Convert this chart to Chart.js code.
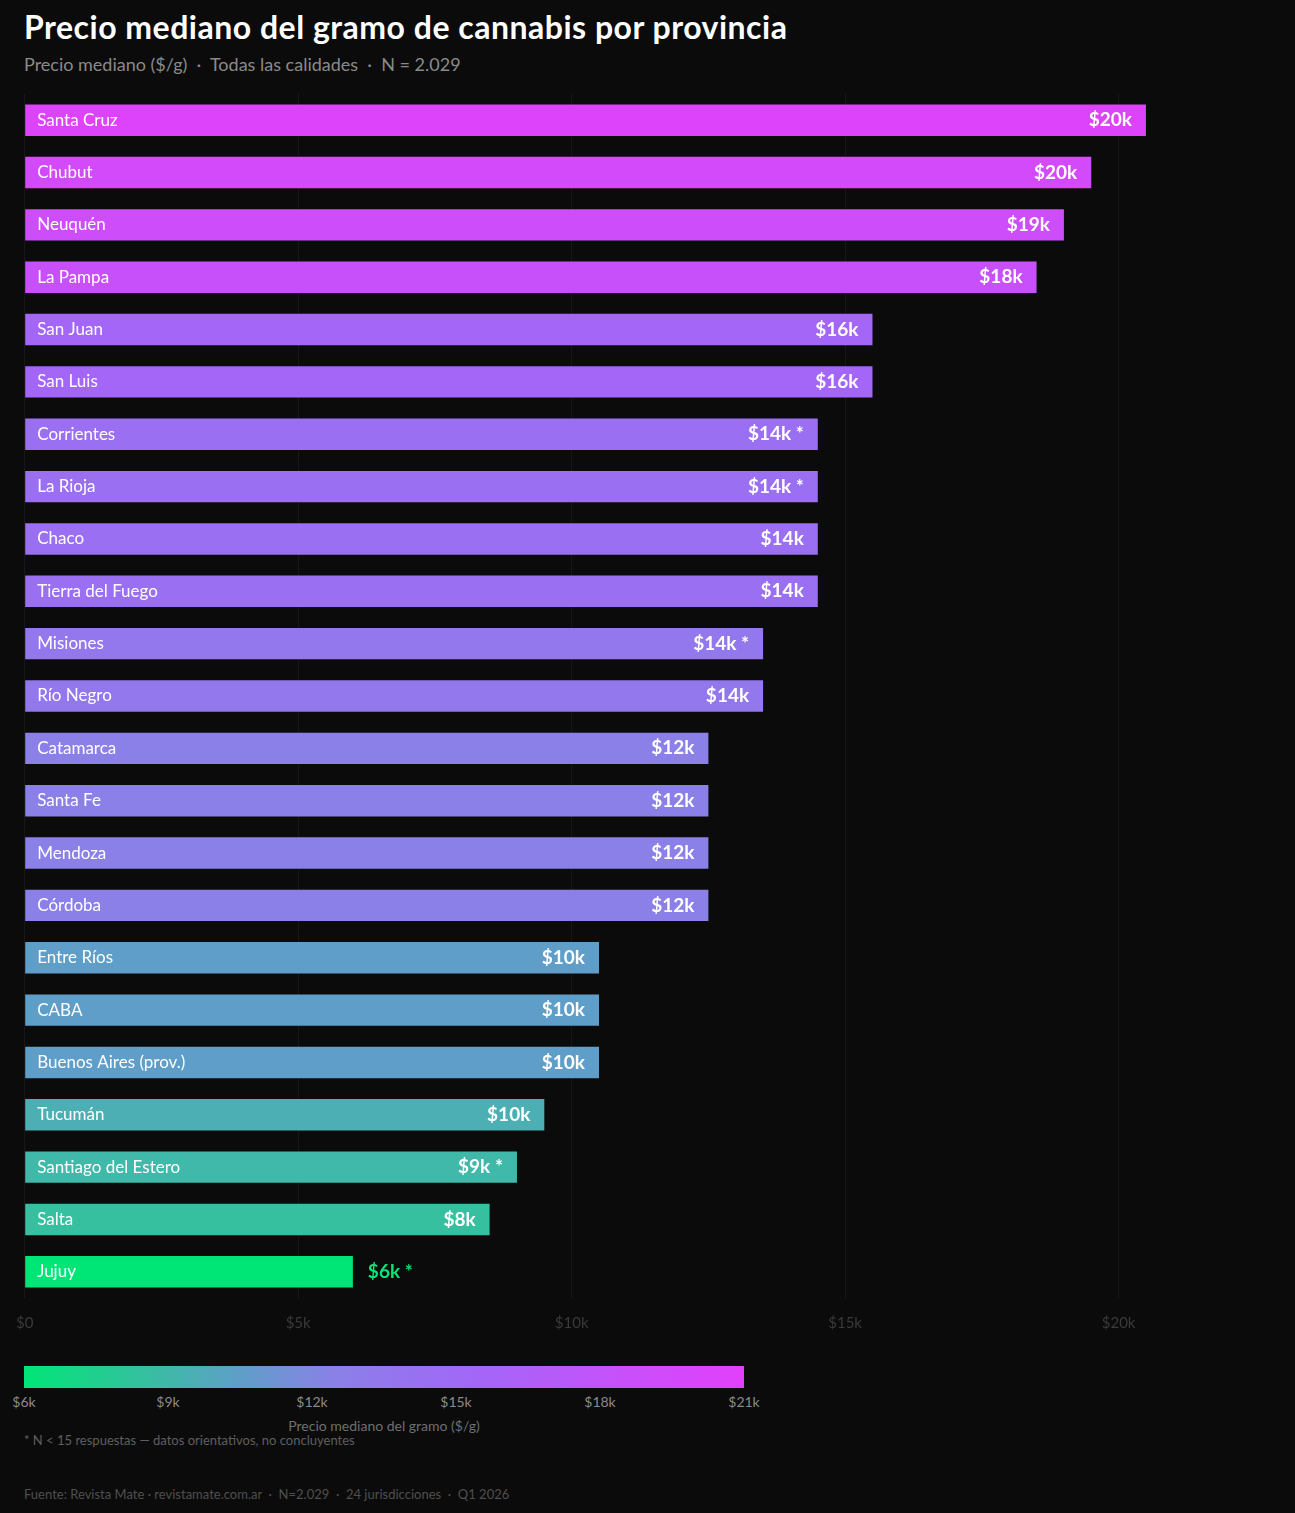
<!DOCTYPE html>
<html>
<head>
<meta charset="utf-8">
<script src="https://cdn.jsdelivr.net/npm/chart.js@4.4.1/dist/chart.umd.min.js"></script>
<style>
  html, body { margin: 0; background: #0b0b0b; width: 1295px; height: 1513px; overflow: hidden; font-family: Lato, "Noto Sans", sans-serif; }
  #wrap { position: relative; width: 1295px; height: 1513px; }
  .t { position: absolute; white-space: nowrap; }
  #title { left: 24px; top: 7px; font-size: 32px; font-weight: 700; color: #fff; letter-spacing: 0.5px; }
  #sub { left: 24px; top: 53px; font-size: 18px; color: #8a8a8a; }
  #chartBox { position: absolute; left: 0; top: 89px; width: 1295px; height: 1259px; }
  #legendBar { position: absolute; left: 24px; top: 1366px; width: 720px; height: 22px; }
  .lt { position: absolute; top: 1393px; font-size: 14px; color: #8a8a8a; transform: translateX(-50%); }
  #legTitle { left: 384px; top: 1417px; font-size: 14px; color: #6f6f6f; transform: translateX(-50%); }
  #note { left: 24px; top: 1432px; font-size: 13px; color: #5f5f5f; }
  #src { left: 24px; top: 1486px; font-size: 13px; color: #4f4f4f; }
</style>
</head>
<body>
<div id="wrap">
  <div id="title" class="t">Precio mediano del gramo de cannabis por provincia</div>
  <div id="sub" class="t">Precio mediano ($/g) &nbsp;·&nbsp; Todas las calidades &nbsp;·&nbsp; N = 2.029</div>
  <div id="chartBox"><canvas id="c"></canvas></div>
  <div id="legendBar"></div>
  <div id="legendTicks"></div>
  <div id="legTitle" class="t">Precio mediano del gramo ($/g)</div>
  <div id="note" class="t">* N &lt; 15 respuestas — datos orientativos, no concluyentes</div>
  <div id="src" class="t">Fuente: Revista Mate · revistamate.com.ar &nbsp;·&nbsp; N=2.029 &nbsp;·&nbsp; 24 jurisdicciones &nbsp;·&nbsp; Q1 2026</div>
</div>
<script>
const provinces = ["Santa Cruz", "Chubut", "Neuquén", "La Pampa", "San Juan", "San Luis", "Corrientes", "La Rioja",
  "Chaco", "Tierra del Fuego", "Misiones", "Río Negro", "Catamarca", "Santa Fe", "Mendoza", "Córdoba",
  "Entre Ríos", "CABA", "Buenos Aires (prov.)", "Tucumán", "Santiago del Estero", "Salta", "Jujuy"];
const prices = [20500, 19500, 19000, 18500, 15500, 15500, 14500, 14500, 14500, 14500, 13500, 13500,
  12500, 12500, 12500, 12500, 10500, 10500, 10500, 9500, 9000, 8500, 6000];
const priceLabels = ["$20k", "$20k", "$19k", "$18k", "$16k", "$16k", "$14k", "$14k", "$14k", "$14k", "$14k", "$14k",
  "$12k", "$12k", "$12k", "$12k", "$10k", "$10k", "$10k", "$10k", "$9k", "$8k", "$6k"];
const lowSample = [false, false, false, false, false, false, true, true, false, false, true, false,
  false, false, false, false, false, false, false, false, true, false, true];
const xTicks = [0, 5000, 10000, 15000, 20000];
const legendTicks = [6000, 9000, 12000, 15000, 18000, 21000];

// colour scale stops (value, rgb)
const stops = [[6000, [0, 230, 118]], [8500, [54, 192, 160]], [10500, [95, 158, 200]], [12500, [139, 128, 232]],
  [15500, [163, 102, 247]], [18500, [200, 80, 250]], [21000, [226, 64, 251]]];
function colorFor(v) {
  for (let i = 1; i < stops.length; i++) {
    if (v <= stops[i][0]) {
      const [a, ca] = stops[i - 1], [b, cb] = stops[i];
      const t = Math.max(0, (v - a) / (b - a));
      return "rgb(" + ca.map((c, k) => Math.round(c + (cb[k] - c) * t)).join(",") + ")";
    }
  }
  return "rgb(" + stops[stops.length - 1][1].join(",") + ")";
}

const lg = document.getElementById("legendBar");
lg.style.background = "linear-gradient(to right," + stops.map(s => colorFor(s[0]) + " " + ((s[0] - 6000) / 150) + "%").join(",") + ")";
const lt = document.getElementById("legendTicks");
legendTicks.forEach(v => {
  const d = document.createElement("div");
  d.className = "t lt";
  d.style.left = (24 + (v - 6000) / 15000 * 720) + "px";
  d.textContent = "$" + (v / 1000) + "k";
  lt.appendChild(d);
});

const barLabels = {
  id: "barLabels",
  afterDatasetsDraw(chart) {
    const ctx = chart.ctx;
    const meta = chart.getDatasetMeta(0);
    ctx.save();
    ctx.textBaseline = "middle";
    meta.data.forEach((bar, i) => {
      ctx.fillStyle = "#ffffff";
      ctx.font = "17px Lato, 'Noto Sans', sans-serif";
      ctx.textAlign = "left";
      ctx.fillText(provinces[i], bar.base + 12, bar.y);
      const txt = priceLabels[i] + (lowSample[i] ? " *" : "");
      ctx.font = "bold 19px Lato, 'Noto Sans', sans-serif";
      if (i === provinces.length - 1) {
        ctx.fillStyle = colorFor(prices[i]);
        ctx.fillText(txt, bar.x + 15, bar.y);
      } else {
        ctx.textAlign = "right";
        ctx.fillText(txt, bar.x - 14, bar.y);
      }
    });
    ctx.restore();
  }
};

new Chart(document.getElementById("c"), {
  type: "bar",
  data: {
    labels: provinces,
    datasets: [{
      data: prices,
      backgroundColor: prices.map(colorFor),
      borderWidth: 0,
      categoryPercentage: 0.6,
      barPercentage: 1,
    }],
  },
  options: {
    indexAxis: "y",
    responsive: true,
    maintainAspectRatio: false,
    animation: false,
    layout: { padding: { left: 23, right: 67, top: 5, bottom: 0 } },
    scales: {
      x: {
        min: 0, max: 22000,
        afterBuildTicks: axis => { axis.ticks = xTicks.map(v => ({ value: v })); },
        grid: { color: "rgba(255,255,255,0.05)", drawTicks: false },
        border: { display: false },
        ticks: { color: "#3a3a3a", padding: 16, font: { size: 15, family: "Lato" }, callback: v => v === 0 ? "$0" : "$" + (v / 1000) + "k" },
      },
      y: { display: false },
    },
    plugins: { legend: { display: false }, tooltip: { enabled: false } },
  },
  plugins: [barLabels],
});
</script>
</body>
</html>
